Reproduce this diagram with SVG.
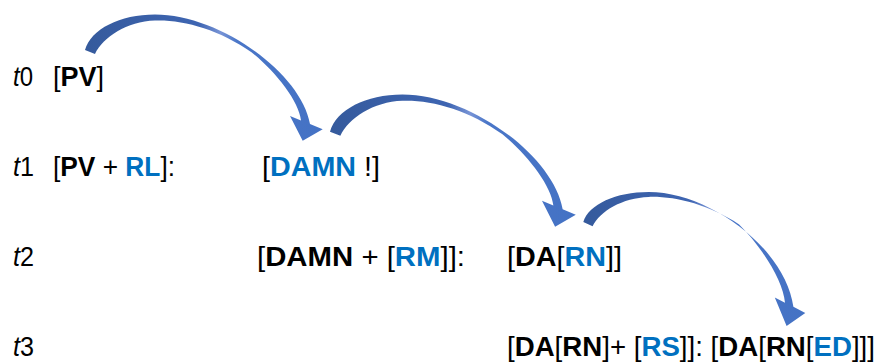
<svg xmlns="http://www.w3.org/2000/svg" width="876" height="362" viewBox="0 0 876 362">
<defs>
<style>
text{font-family:"Liberation Sans",Arial,sans-serif;font-size:27px;fill:#000}
.b{font-weight:bold}
.bl{fill:#0070C0;font-weight:bold}
.i{font-style:italic}
</style>
<linearGradient id="g" x1="0" y1="0" x2="1" y2="0">
<stop offset="0" stop-color="#355A9C"/>
<stop offset="0.48" stop-color="#3E65B2"/>
<stop offset="0.57" stop-color="#7894D6"/>
<stop offset="0.64" stop-color="#4A76C8"/>
<stop offset="1" stop-color="#4472C4"/>
</linearGradient>
<path id="arr" d="M0,-1 C6,-22 35,-36.5 70,-36.5 C135,-36.5 216,22 225,73 L237.7,78.3 L217.7,89.7 L205,65 L216,69.5 C214,50 190,20 166.8,1.5 C134.2,-21.7 98,-31.5 70,-30.5 C42,-29.5 18,-14 10,3 Z"/>
</defs>
<rect width="876" height="362" fill="#fff"/>
<g id="connectors" fill="url(#g)">
<use href="#arr" transform="translate(85,51)"/>
<use href="#arr" transform="translate(330,132.7) scale(1.034,1.048)"/>
<path d="M583.3,221.9 C588.9,204.1 616,191.9 648.7,191.9 C709.4,191.9 785,248 793.4,306.8 L805.3,312.9 L786.6,326 L774.8,297.6 L785,302.8 C783.2,280.3 760.8,245.7 739.1,224.4 C708.6,204.4 674.8,196.1 648.7,196.9 C622.5,197.8 600.1,210.9 592.6,226.2 Z"/>
</g>
<g id="label-t0"><text x="13" y="86" textLength="20" lengthAdjust="spacingAndGlyphs"><tspan class="i">t</tspan>0</text></g>
<g id="node-t0-pv"><text x="53" y="86" textLength="51" lengthAdjust="spacingAndGlyphs">[<tspan class="b">PV</tspan>]</text></g>
<g id="label-t1"><text x="13" y="176" textLength="21" lengthAdjust="spacingAndGlyphs"><tspan class="i">t</tspan>1</text></g>
<g id="node-t1-pvrl"><text x="53" y="176" textLength="122" lengthAdjust="spacingAndGlyphs">[<tspan class="b">PV</tspan> + <tspan class="bl">RL</tspan>]:</text></g>
<g id="node-t1-damn"><text x="262" y="176" textLength="118" lengthAdjust="spacingAndGlyphs">[<tspan class="bl">DAMN</tspan> !]</text></g>
<g id="label-t2"><text x="13" y="266" textLength="21" lengthAdjust="spacingAndGlyphs"><tspan class="i">t</tspan>2</text></g>
<g id="node-t2-damnrm"><text x="257" y="266" textLength="208" lengthAdjust="spacingAndGlyphs">[<tspan class="b">DAMN</tspan> + [<tspan class="bl">RM</tspan>]]:</text></g>
<g id="node-t2-darn"><text x="507" y="266" textLength="115" lengthAdjust="spacingAndGlyphs">[<tspan class="b">DA</tspan>[<tspan class="bl">RN</tspan>]]</text></g>
<g id="label-t3"><text x="13" y="356" textLength="21" lengthAdjust="spacingAndGlyphs"><tspan class="i">t</tspan>3</text></g>
<g id="node-t3"><text x="507" y="356" textLength="368" lengthAdjust="spacingAndGlyphs">[<tspan class="b">DA</tspan>[<tspan class="b">RN</tspan>]+ [<tspan class="bl">RS</tspan>]]: [<tspan class="b">DA</tspan>[<tspan class="b">RN</tspan>[<tspan class="bl">ED</tspan>]]]</text></g>
</svg>
